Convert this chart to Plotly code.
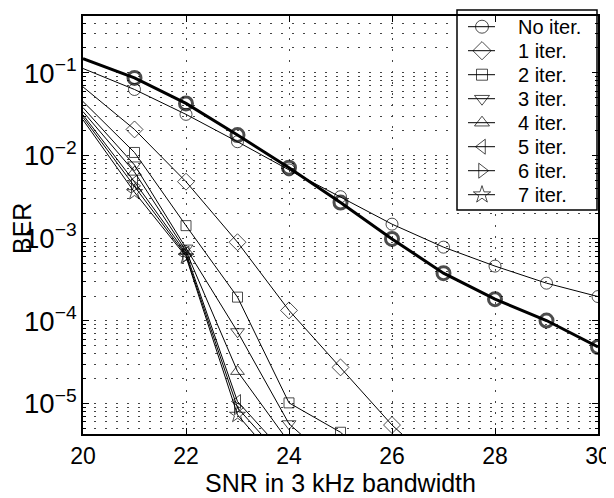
import plotly.graph_objects as go

snr = [20, 21, 22, 23, 24, 25, 26, 27, 28, 29, 30]

ref_thick = [0.149, 0.087, 0.0427, 0.0177, 0.00713, 0.0027, 0.00098, 3.78e-4, 1.83e-4, 1.01e-4, 4.83e-5]
no_iter = [0.113, 0.063, 0.0315, 0.0147, 0.0067, 0.00318, 0.00148, 7.8e-4, 4.6e-4, 2.86e-4, 1.97e-4]
iter1 = [0.0677, 0.0207, 0.00483, 8.95e-4, 1.34e-4, 2.74e-5, 5.5e-6, 1.5e-6]
iter2 = [0.045, 0.0109, 1.42e-3, 1.94e-4, 1.02e-5, 4.5e-6, 1.2e-6]
iter3 = [0.038, 7.7e-3, 7.6e-4, 7.4e-5, 5.7e-6, 1.6e-6]
iter4 = [0.034, 6.3e-3, 7.0e-4, 2.45e-5, 3.4e-6]
iter5 = [0.031, 4.8e-3, 6.6e-4, 1.06e-5, 2.2e-6]
iter6 = [0.029, 4.3e-3, 6.2e-4, 8.9e-6, 1.8e-6]
iter7 = [0.027, 3.6e-3, 6.0e-4, 7.3e-6, 1.4e-6]

names = ["No iter.", "1 iter.", "2 iter.", "3 iter.", "4 iter.", "5 iter.", "6 iter.", "7 iter."]
series = [no_iter, iter1, iter2, iter3, iter4, iter5, iter6, iter7]
symbols = ["circle-open", "diamond-open", "square-open", "triangle-down-open",
           "triangle-up-open", "triangle-left-open", "triangle-right-open", "star-open"]
msizes = [12, 13, 10, 12, 12, 12, 12, 12]

FONT = "Liberation Sans, Arial, Helvetica, sans-serif"

# page has an 8px body margin; figure is sized to fit the 614x498 window
OFF = 8
W, H = 614 - OFF, 498 - OFF
# plot-area edges in window pixels
L, R, T, B = 83, 598, 16, 434


def px_x(p):
    return (p - L) / (R - L)


def px_y(p):
    return (B - p) / (B - T)


fig = go.Figure()

for name, ys, sym, ms in zip(names, series, symbols, msizes):
    n = len(ys)
    fig.add_trace(go.Scatter(
        x=snr[:n], y=ys, name=name, mode="lines+markers", showlegend=False,
        line=dict(color="black", width=1),
        marker=dict(symbol=sym, size=[0] + [ms] * (n - 1), color="black",
                    line=dict(color="black", width=1)),
    ))

fig.add_trace(go.Scatter(
    x=snr, y=ref_thick, mode="lines+markers", showlegend=False,
    line=dict(color="black", width=3),
    marker=dict(symbol="circle-open", size=[0] + [13] * (len(snr) - 1), color="black",
                line=dict(color="black", width=3)),
))

# custom legend on a pixel-coordinate overlay axis (window pixels)
leg_x0, leg_x1, leg_y0, leg_y1 = 457, 597, 10, 210
item_y0, item_dy = 26.7, 24.0
fig.add_trace(go.Scatter(
    x=[leg_x0, leg_x1, leg_x1, leg_x0, leg_x0], y=[leg_y0, leg_y0, leg_y1, leg_y1, leg_y0],
    xaxis="x2", yaxis="y2", mode="lines", fill="toself", fillcolor="white",
    line=dict(color="white", width=0), showlegend=False, hoverinfo="skip",
))
annotations = []
for i, (name, sym, ms) in enumerate(zip(names, symbols, msizes)):
    yy = item_y0 + i * item_dy
    fig.add_trace(go.Scatter(
        x=[468, 482, 495], y=[yy, yy, yy], xaxis="x2", yaxis="y2",
        mode="lines+markers", showlegend=False, hoverinfo="skip", cliponaxis=False,
        line=dict(color="black", width=1),
        marker=dict(symbol=sym, size=[0, ms + 1, 0], color="black",
                    line=dict(color="black", width=1)),
    ))
    annotations.append(dict(
        text=name, xref="x2", yref="y2", x=516, y=yy, xanchor="left", yanchor="middle",
        showarrow=False, font=dict(size=20, family=FONT),
    ))

annotations.append(dict(
    text="BER", xref="paper", yref="paper", x=px_x(22), y=px_y(229),
    xanchor="center", yanchor="middle", textangle=-90, showarrow=False,
    font=dict(size=25, family=FONT),
))
annotations.append(dict(
    text="SNR in 3 kHz bandwidth", xref="paper", yref="paper",
    x=px_x(340), y=px_y(483),
    xanchor="center", yanchor="middle", showarrow=False,
    font=dict(size=25, family=FONT),
))

gridstyle = dict(showgrid=True, gridcolor="#444", gridwidth=1, griddash="2px,9px")

fig.update_layout(
    width=W, height=H,
    margin=dict(l=L - OFF, r=W - (R - OFF), t=T - OFF, b=H - (B - OFF)),
    paper_bgcolor="white", plot_bgcolor="white",
    font=dict(family=FONT, color="black", size=24),
    showlegend=False,
    xaxis=dict(
        range=[20, 30], dtick=2, tick0=20,
        showline=True, linecolor="black", linewidth=2, mirror="ticks",
        ticks="inside", ticklen=6, tickcolor="black", tickwidth=1,
        tickfont=dict(size=23), ticklabelstandoff=0,
        zeroline=False, automargin=False,
        **gridstyle,
    ),
    yaxis=dict(
        type="log", range=[-5.368, -0.312], dtick=1,
        exponentformat="power",
        showline=True, linecolor="black", linewidth=2, mirror="ticks",
        ticks="inside", ticklen=6, tickcolor="black", tickwidth=1,
        tickfont=dict(size=22), ticklabelstandoff=0,
        zeroline=False, automargin=False,
        minor=dict(dtick="D1", ticks="inside", ticklen=3, tickcolor="black",
                   showgrid=True, gridcolor="#444", gridwidth=1, griddash="2px,9px"),
        **gridstyle,
    ),
    xaxis2=dict(overlaying="x", anchor="y2", range=[L, R], visible=False, fixedrange=True),
    yaxis2=dict(overlaying="y", anchor="x2", range=[B, T], visible=False, fixedrange=True),
    shapes=[dict(
        type="rect", xref="paper", yref="paper", layer="above",
        x0=px_x(leg_x0), x1=px_x(leg_x1), y0=px_y(leg_y1), y1=px_y(leg_y0),
        fillcolor="rgba(0,0,0,0)", line=dict(color="black", width=1.5),
    )],
    annotations=annotations,
)

fig.write_html("out.html")
